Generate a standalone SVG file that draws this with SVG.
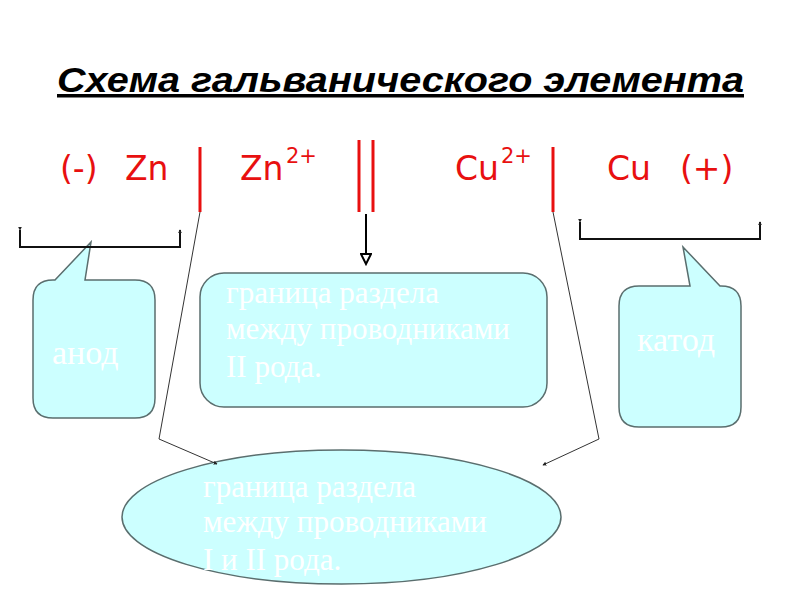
<svg xmlns="http://www.w3.org/2000/svg" width="800" height="600" viewBox="0 0 800 600">
<defs>
<style>
.title{font-family:"Liberation Sans",Arial,sans-serif;font-weight:bold;font-style:italic;font-size:35px;fill:#000}
.red{font-family:"DejaVu Sans","Liberation Sans",sans-serif;font-size:33px;fill:#e81010}
.sup{font-family:"DejaVu Sans","Liberation Sans",sans-serif;font-size:21px;fill:#e81010}
.bar{stroke:#e81010;stroke-width:3;fill:none}
.box{fill:#ccffff;stroke:#5a6e6e;stroke-width:1.5}
.lbl{font-family:"Liberation Serif","Times New Roman",serif;font-size:31px;fill:#ffffff}
.big{font-family:"Liberation Serif","Times New Roman",serif;font-size:34px;fill:#ffffff}
.brk{stroke:#111;stroke-width:2;fill:none}
.thin{stroke:#333;stroke-width:1;fill:none}
</style>
<marker id="tiny" viewBox="0 0 6 6" refX="5" refY="3" markerWidth="4" markerHeight="4" orient="auto" markerUnits="userSpaceOnUse">
<path d="M0,0 L6,3 L0,6 z" fill="#222"/>
</marker>
<marker id="tri" viewBox="0 0 12 12" refX="11" refY="6" markerWidth="14" markerHeight="12" orient="auto" markerUnits="userSpaceOnUse">
<path d="M1,1 L11,6 L1,11 z" fill="#fff" stroke="#000" stroke-width="2"/>
</marker>
</defs>
<rect width="800" height="600" fill="#fff"/>

<g id="title">
<text class="title" x="57" y="92" textLength="687" lengthAdjust="spacingAndGlyphs" text-decoration="underline">Схема гальванического элемента</text>
</g>

<g id="formula">
<text class="red" x="60" y="180">(-)</text>
<text class="red" x="125" y="180">Zn</text>
<text class="red" x="240" y="180">Zn</text>
<text class="sup" x="286" y="163">2+</text>
<text class="red" x="455" y="180">Cu</text>
<text class="sup" x="501" y="163">2+</text>
<text class="red" x="607" y="180">Cu</text>
<text class="red" x="680" y="180">(+)</text>
<line class="bar" x1="200" y1="147" x2="200" y2="212"/>
<line class="bar" x1="359" y1="140" x2="359" y2="212"/>
<line class="bar" x1="373" y1="140" x2="373" y2="212"/>
<line class="bar" x1="553" y1="147" x2="553" y2="212"/>
</g>

<g id="anode">
<path class="box" d="M55,280 L91,242 L85,280 L135,280 Q155,280 155,300 L155,398 Q155,418 135,418 L53,418 Q33,418 33,398 L33,300 Q33,280 53,280 Z"/>
<text class="big" x="52" y="364">анод</text>
</g>

<g id="boundary2">
<rect class="box" x="200" y="273" width="347" height="134" rx="24" ry="24"/>
<text class="lbl" x="226" y="303">граница раздела</text>
<text class="lbl" x="226" y="339">между проводниками</text>
<text class="lbl" x="226" y="377">II рода.</text>
</g>

<g id="cathode">
<path class="box" d="M690,286 L683,247 L720,286 L721,286 Q741,286 741,306 L741,407 Q741,427 721,427 L639,427 Q619,427 619,407 L619,306 Q619,286 639,286 Z"/>
<text class="big" x="637" y="351">катод</text>
</g>

<g id="boundary12">
<ellipse class="box" cx="341.5" cy="517" rx="219.5" ry="67"/>
<text class="lbl" x="203" y="497">граница раздела</text>
<text class="lbl" x="203" y="532">между проводниками</text>
<text class="lbl" x="203" y="570">I и  II рода.</text>
</g>

<g id="connectors">
<path class="brk" d="M20,230 L20,247 L180,247 L180,230" marker-start="url(#tiny)" marker-end="url(#tiny)"/>
<path class="brk" d="M580,222 L580,239 L760,239 L760,222" marker-start="url(#tiny)" marker-end="url(#tiny)"/>
<line x1="366" y1="214" x2="366" y2="264" stroke="#000" stroke-width="2" marker-end="url(#tri)"/>
<polyline class="thin" points="200,212 159,439 217,464" marker-end="url(#tiny)"/>
<polyline class="thin" points="553,212 599,439 543,465" marker-end="url(#tiny)"/>
</g>
</svg>
